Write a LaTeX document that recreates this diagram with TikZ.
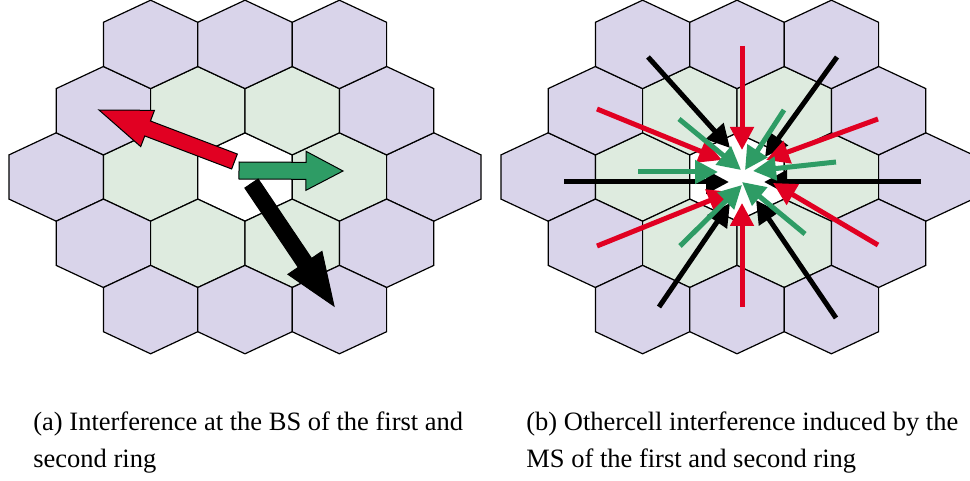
\documentclass[tikz,border=0pt]{standalone}
\usepackage{fontspec}
\setmainfont{Liberation Serif}
\usetikzlibrary{calc,arrows.meta}

\definecolor{outerring}{RGB}{217,212,234}
\definecolor{innerring}{RGB}{222,235,223}
\definecolor{arrred}{RGB}{225,0,34}
\definecolor{arrgreen}{RGB}{46,156,101}

\tikzset{
  hexline/.style={draw=black, line width=0.6pt, line join=miter},
  ray/.style={line width=2.5pt, -{Triangle[length=11.5pt,width=11.5pt]}},
  blockarr/.style={draw=black, line width=0.5pt, line join=miter},
  caption/.style={anchor=base west, inner sep=0pt, font=\fontsize{13.25}{18}\selectfont},
}

% one pointy-top cell: centre x, centre y, fill colour
\newcommand\hexcell[3]{%
  \filldraw[hexline, fill=#3] (#1,#2) +(0,-44.2) -- +(47.2,-22.1) -- +(47.2,22.1)
    -- +(0,44.2) -- +(-47.2,22.1) -- +(-47.2,-22.1) -- cycle;}

% nineteen cells: the serving cell, the first ring and the second ring
\newcommand\hexcluster[2]{%
  \foreach \i/\j/\c in {-4/0/outerring, -2/0/innerring, 0/0/white, 2/0/innerring, 4/0/outerring,
      -3/-1/outerring, -1/-1/innerring, 1/-1/innerring, 3/-1/outerring,
      -3/1/outerring, -1/1/innerring, 1/1/innerring, 3/1/outerring,
      -2/-2/outerring, 0/-2/outerring, 2/-2/outerring,
      -2/2/outerring, 0/2/outerring, 2/2/outerring}{%
    \pgfmathsetmacro\hx{#1+(\i)*47.2}%
    \pgfmathsetmacro\hy{#2+(\j)*66.3}%
    \hexcell{\hx}{\hy}{\c}}}

% block arrow: style, tail, tip, half shaft width, half head width, head length (pt)
\newcommand\blockarrow[6]{%
  \coordinate (ba-h) at ($(#3)!#6pt!(#2)$);
  \filldraw[blockarr, #1]
    ($(#2)!#4pt!90:(#3)$) -- ($(ba-h)!#4pt!90:(#3)$) -- ($(ba-h)!#5pt!90:(#3)$)
    -- (#3)
    -- ($(ba-h)!#5pt!-90:(#3)$) -- ($(ba-h)!#4pt!-90:(#3)$) -- ($(#2)!#4pt!-90:(#3)$)
    -- cycle;}

\begin{document}
\begin{tikzpicture}[x=0.5pt,y=-0.5pt]
\useasboundingbox (0,0) rectangle (970,481);

\hexcluster{245}{177}
\hexcluster{737}{177}

% (a) interference received at the base station
\coordinate (redtail) at (234.5,161.5);   \coordinate (redtip) at (99,110);
\coordinate (greentail) at (239,170.5);   \coordinate (greentip) at (343,171);
\coordinate (blacktail) at (251.5,183.5); \coordinate (blacktip) at (334,306);
\blockarrow{fill=arrred}{redtail}{redtip}{4}{9.7}{26}
\blockarrow{fill=arrgreen}{greentail}{greentip}{4.25}{9.75}{18.5}
\blockarrow{fill=black}{blacktail}{blacktip}{4}{10.25}{26}

% (b) interference from the mobiles of the two rings
\foreach \n/\sx/\sy/\tx/\ty in {1/648/57/730/148, 2/837/57/765/157, 3/564/182/729/182,
    4/921/182/764/182, 5/659/307/730/203, 6/836/318/756/200}{
  \coordinate (bs\n) at (\sx,\sy); \coordinate (bt\n) at (\tx,\ty);
  \draw[ray, black] (bs\n) -- (bt\n);}
\foreach \n/\sx/\sy/\tx/\ty in {1/742/46/742/150, 2/742/307/742/203, 3/597/109/722/160,
    4/878/119/766/160, 5/597/246/731/192, 6/878/245/773/183}{
  \coordinate (rs\n) at (\sx,\sy); \coordinate (rt\n) at (\tx,\ty);
  \draw[ray, arrred] (rs\n) -- (rt\n);}
\foreach \n/\sx/\sy/\tx/\ty in {1/679/119/741/170, 2/784/110/745/170, 3/638/172/718/172,
    4/836/162/753/171, 5/680/246/742/185, 6/805/234/742/182}{
  \coordinate (gs\n) at (\sx,\sy); \coordinate (gt\n) at (\tx,\ty);
  \draw[ray, arrgreen] (gs\n) -- (gt\n);}

% captions
\node[caption] (capa1) at (33,430) {(a) Interference at the BS of the first and};
\node[caption] (capa2) at (33,467.7) {second ring};
\node[caption] (capb1) at (526,430) {(b) Othercell interference induced by the};
\node[caption] (capb2) at (526,467.7) {MS of the first and second ring};
\end{tikzpicture}
\end{document}
